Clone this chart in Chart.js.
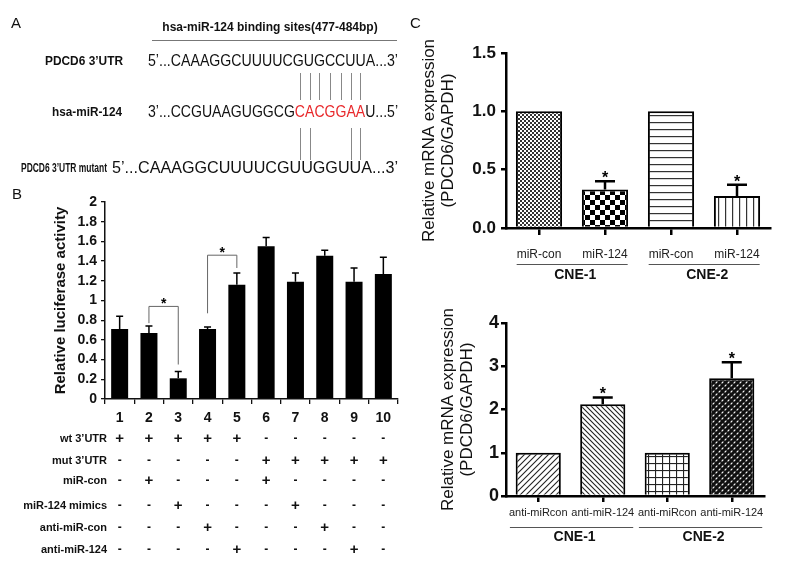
<!DOCTYPE html>
<html>
<head>
<meta charset="utf-8">
<script src="https://cdn.jsdelivr.net/npm/chart.js@4.4.0/dist/chart.umd.min.js"></script>
<style>
html, body { margin: 0; padding: 0; background: #fff; }
#wrap { position: relative; width: 800px; height: 565px; overflow: hidden; font-family: 'Liberation Sans', Arial, sans-serif; }
canvas { position: absolute; }
.tag { position: absolute; font-size: 15px; line-height: 15px; color: #111; }
</style>
</head>
<body>
<div id="wrap">
  <canvas id="seq" width="400" height="180" style="left:0;top:0"></canvas>
  <canvas id="luc" width="420" height="385" style="left:0;top:180px"></canvas>
  <canvas id="mimic" width="400" height="290" style="left:400px;top:0"></canvas>
  <canvas id="anti" width="400" height="280" style="left:400px;top:285px"></canvas>
  <div class="tag" style="left:11px;top:15px">A</div>
  <div class="tag" style="left:12px;top:186px">B</div>
  <div class="tag" style="left:410px;top:15px">C</div>
</div>
<script>
var F = "'Liberation Sans', Arial, sans-serif";

// panel B: luciferase assay
var lucLabels = ["1", "2", "3", "4", "5", "6", "7", "8", "9", "10"];
var lucValues = [0.71, 0.67, 0.21, 0.71, 1.16, 1.55, 1.19, 1.455, 1.19, 1.27];
var lucErrors = [0.13, 0.07, 0.07, 0.02, 0.12, 0.09, 0.09, 0.055, 0.14, 0.17];
var rowNames = ["wt 3’UTR", "mut 3’UTR", "miR-con", "miR-124 mimics", "anti-miR-con", "anti-miR-124"];
var rowMarks = [
    [1, 1, 1, 1, 1, 0, 0, 0, 0, 0],
    [0, 0, 0, 0, 0, 1, 1, 1, 1, 1],
    [0, 1, 0, 0, 0, 1, 0, 0, 0, 0],
    [0, 0, 1, 0, 0, 0, 1, 0, 0, 0],
    [0, 0, 0, 1, 0, 0, 0, 1, 0, 0],
    [0, 0, 0, 0, 1, 0, 0, 0, 1, 0]
];
var lucBrackets = [
    {from: 1, to: 2, top: 0.94, leftEnd: 0.77, rightEnd: 0.35},
    {from: 3, to: 4, top: 1.46, leftEnd: 0.87, rightEnd: 1.33}
];

// panel C: qPCR
var mimicLabels = ["miR-con", "miR-124", "miR-con", "miR-124"];
var mimicValues = [1.0, 0.33, 1.0, 0.275];
var mimicErrors = [0, 0.07, 0, 0.095];
var antiLabels = ["anti-miRcon", "anti-miR-124", "anti-miRcon", "anti-miR-124"];
var antiValues = [1.0, 2.12, 1.0, 2.72];
var antiErrors = [0, 0.16, 0, 0.37];
var starred = [false, true, false, true];
var cellLines = ["CNE-1", "CNE-2"];

// panel A: binding site
var utrSeq = "5’...CAAAGGCUUUUCGUGCCUUA...3’";
var mirSeq = ["3’...CCGUAAGUGGCG", "CACGGAA", "U...5’"];
var mutSeq = "5’...CAAAGGCUUUUCGUUGGUUA...3’";
var pairedWt = [0, 1, 2, 3, 4, 5, 6];
var pairedMut = [0, 1, 5, 6];

// ---------- panel A ----------
var sv = document.getElementById("seq").getContext("2d");
sv.textBaseline = "middle";
sv.fillStyle = "#111";
sv.font = "bold 12px " + F;
sv.textAlign = "center";
sv.fillText("hsa-miR-124 binding sites(477-484bp)", 270, 28);
sv.strokeStyle = "#777";
sv.lineWidth = 1;
sv.beginPath();
sv.moveTo(152, 40.5);
sv.lineTo(397, 40.5);
sv.stroke();

function drawSeq(parts, x, y, width) {
    sv.font = "16px " + F;
    sv.textAlign = "left";
    var total = 0;
    parts.forEach(function(p) { total += sv.measureText(p[0]).width; });
    var s = width / total, off = 0, centers = [];
    sv.save();
    sv.translate(x, y);
    sv.scale(s, 1);
    parts.forEach(function(p) {
        sv.fillStyle = p[1];
        sv.fillText(p[0], off, 0);
        var c = [];
        for (var k = 0; k < p[0].length; k++) {
            var a = sv.measureText(p[0].slice(0, k)).width;
            var w = sv.measureText(p[0][k]).width;
            c.push(x + s * (off + a + w / 2));
        }
        centers.push(c);
        off += sv.measureText(p[0]).width;
    });
    sv.restore();
    return centers;
}
function seqLabel(t, x, y, maxW) {
    sv.font = "bold 12px " + F;
    sv.textAlign = "right";
    sv.fillStyle = "#111";
    sv.fillText(t, x, y, maxW);
}
seqLabel("PDCD6 3’UTR", 123, 62, 78);
drawSeq([[utrSeq, "#111"]], 148, 62, 250);
seqLabel("hsa-miR-124", 122, 113, 70);
var mc = drawSeq([[mirSeq[0], "#111"], [mirSeq[1], "#e8282b"], [mirSeq[2], "#111"]], 148, 113, 250)[1];
seqLabel("PDCD6 3’UTR mutant", 107, 169, 86);
drawSeq([[mutSeq, "#111"]], 112, 169, 286);
sv.strokeStyle = "#888";
sv.beginPath();
pairedWt.forEach(function(i) { var px = Math.round(mc[i]) + 0.5; sv.moveTo(px, 73); sv.lineTo(px, 100); });
pairedMut.forEach(function(i) { var px = Math.round(mc[i]) + 0.5; sv.moveTo(px, 128); sv.lineTo(px, 160); });
sv.stroke();

// ---------- fill patterns ----------
function pattern(size, bg, draw) {
    var c = document.createElement("canvas");
    c.width = size; c.height = size;
    var g = c.getContext("2d");
    g.fillStyle = bg;
    g.fillRect(0, 0, size, size);
    draw(g, size);
    return g.createPattern(c, "repeat");
}
function diag(g, s, dir) {
    g.beginPath();
    for (var k = -1; k <= 1; k++) {
        if (dir > 0) { g.moveTo(k * s - 1, s + 1); g.lineTo(k * s + s + 1, -1); }
        else { g.moveTo(k * s - 1, -1); g.lineTo(k * s + s + 1, s + 1); }
    }
    g.stroke();
}
var fineCheck = pattern(4, "#fff", function(g) { g.fillStyle = "#333"; g.fillRect(0, 0, 2, 2); g.fillRect(2, 2, 2, 2); });
var bigCheck = pattern(10, "#fff", function(g) { g.fillStyle = "#000"; g.fillRect(0, 0, 5, 5); g.fillRect(5, 5, 5, 5); });
var hLines = pattern(7, "#fff", function(g) { g.fillStyle = "#333"; g.fillRect(0, 3, 7, 1.2); });
var vLines = pattern(7, "#fff", function(g) { g.fillStyle = "#333"; g.fillRect(3, 0, 1.2, 7); });
var slash = pattern(6, "#fff", function(g, s) { g.strokeStyle = "#222"; g.lineWidth = 1.1; diag(g, s, 1); });
var backslash = pattern(5, "#fff", function(g, s) { g.strokeStyle = "#222"; g.lineWidth = 1.1; diag(g, s, -1); });
var grid = pattern(7, "#fff", function(g) { g.fillStyle = "#222"; g.fillRect(0, 3, 7, 1.1); g.fillRect(3, 0, 1.1, 7); });
var dark = pattern(6, "#111", function(g, s) {
    g.strokeStyle = "#fff"; g.lineWidth = 1.2; diag(g, s, 1);
    g.strokeStyle = "#111"; g.lineWidth = 1.6; diag(g, s, -1);
});

// ---------- plugins ----------
var errorBars = {
    id: "errorBars",
    afterDatasetsDraw: function(chart, args, o) {
        var ctx = chart.ctx, y = chart.scales.y, vals = chart.data.datasets[0].data;
        ctx.save();
        ctx.strokeStyle = "#000";
        ctx.fillStyle = "#000";
        ctx.lineWidth = o.width;
        ctx.font = "bold " + o.starSize + "px " + F;
        ctx.textAlign = "center";
        ctx.textBaseline = "alphabetic";
        chart.getDatasetMeta(0).data.forEach(function(bar, i) {
            if (!o.errors[i]) return;
            var y0 = y.getPixelForValue(vals[i]), y1 = y.getPixelForValue(vals[i] + o.errors[i]);
            ctx.beginPath();
            ctx.moveTo(bar.x, y0);
            ctx.lineTo(bar.x, y1);
            ctx.moveTo(bar.x - o.cap / 2, y1);
            ctx.lineTo(bar.x + o.cap / 2, y1);
            ctx.stroke();
            if (o.stars && o.stars[i]) ctx.fillText("*", bar.x, y1 + 2);
        });
        ctx.restore();
    }
};

var brackets = {
    id: "brackets",
    afterDatasetsDraw: function(chart, args, o) {
        var ctx = chart.ctx, x = chart.scales.x, y = chart.scales.y;
        ctx.save();
        ctx.strokeStyle = "#666";
        ctx.lineWidth = 1;
        ctx.fillStyle = "#000";
        ctx.font = "bold 14px " + F;
        ctx.textAlign = "center";
        o.items.forEach(function(b) {
            var xl = x.getPixelForValue(b.from), xr = x.getPixelForValue(b.to), yt = y.getPixelForValue(b.top);
            ctx.beginPath();
            ctx.moveTo(xl, y.getPixelForValue(b.leftEnd));
            ctx.lineTo(xl, yt);
            ctx.lineTo(xr, yt);
            ctx.lineTo(xr, y.getPixelForValue(b.rightEnd));
            ctx.stroke();
            ctx.fillText("*", (xl + xr) / 2, yt + 2);
        });
        ctx.restore();
    }
};

var condTable = {
    id: "condTable",
    afterDraw: function(chart, args, o) {
        var ctx = chart.ctx, x = chart.scales.x;
        ctx.save();
        ctx.fillStyle = "#111";
        ctx.textBaseline = "middle";
        o.names.forEach(function(name, r) {
            var y = x.top + o.rowDy[r];
            ctx.font = "bold 11px " + F;
            ctx.textAlign = "right";
            ctx.fillText(name, o.labelX, y);
            ctx.textAlign = "center";
            o.marks[r].forEach(function(m, i) {
                ctx.font = m ? "bold 15px " + F : "bold 12px " + F;
                ctx.fillText(m ? "+" : "-", x.getPixelForValue(i), y);
            });
        });
        ctx.restore();
    }
};

var groups = {
    id: "groups",
    afterDraw: function(chart, args, o) {
        var ctx = chart.ctx, x = chart.scales.x, labels = chart.data.labels;
        ctx.save();
        o.names.forEach(function(name, gi) {
            var a = gi * 2, b = a + 1;
            ctx.font = o.tickSize + "px " + F;
            var left = x.getPixelForValue(a) - ctx.measureText(labels[a]).width / 2 - o.pad;
            var right = x.getPixelForValue(b) + ctx.measureText(labels[b]).width / 2 + o.pad;
            ctx.strokeStyle = "#555";
            ctx.lineWidth = 1;
            ctx.beginPath();
            ctx.moveTo(left, x.top + o.lineDy + 0.5);
            ctx.lineTo(right, x.top + o.lineDy + 0.5);
            ctx.stroke();
            ctx.font = "bold 14px " + F;
            ctx.fillStyle = "#111";
            ctx.textAlign = "center";
            ctx.textBaseline = "middle";
            ctx.fillText(name, (left + right) / 2 + 3, x.top + o.labelDy);
        });
        ctx.restore();
    }
};

// ---------- chart B ----------
new Chart(document.getElementById("luc"), {
    type: "bar",
    data: {
        labels: lucLabels,
        datasets: [{
            data: lucValues,
            backgroundColor: "#000",
            borderWidth: 0,
            barPercentage: 0.58,
            categoryPercentage: 1
        }]
    },
    options: {
        responsive: false,
        animation: false,
        layout: {padding: {left: 48, top: 22, right: 22, bottom: 0}},
        plugins: {
            legend: {display: false},
            tooltip: {enabled: false},
            errorBars: {errors: lucErrors, cap: 7, width: 1.5, starSize: 14},
            brackets: {items: lucBrackets},
            condTable: {names: rowNames, marks: rowMarks, rowDy: [40, 62, 82, 107, 129, 151], labelX: 107}
        },
        scales: {
            x: {
                grid: {offset: true, drawOnChartArea: false, tickLength: 5, color: "#111", lineWidth: 1.3},
                border: {color: "#111", width: 1.5},
                ticks: {color: "#111", padding: 6, maxRotation: 0, autoSkip: false, font: {size: 14, weight: "bold"}},
                afterFit: function(s) { s.height = 166; }
            },
            y: {
                min: 0,
                max: 2,
                grid: {drawOnChartArea: false, tickLength: 4, color: "#111", lineWidth: 1.3},
                border: {color: "#111", width: 1.5},
                ticks: {stepSize: 0.2, autoSkip: false, color: "#111", padding: 4, font: {size: 14, weight: "bold"},
                    callback: function(v) { return String(+v.toFixed(1)); }},
                title: {display: true, text: "Relative luciferase activity", color: "#111",
                    font: {size: 15, weight: "bold"}, padding: {top: 4, bottom: 0}},
                afterFit: function(s) { s.width = 57; }
            }
        }
    },
    plugins: [errorBars, brackets, condTable]
});

// ---------- chart C (two panels) ----------
function qpcr(id, labels, values, errors, fills, yMax, step, fmt, box) {
    return new Chart(document.getElementById(id), {
        type: "bar",
        data: {
            labels: labels,
            datasets: [{
                data: values,
                backgroundColor: fills,
                borderColor: "#000",
                borderWidth: 2,
                barPercentage: 0.7,
                categoryPercentage: 1
            }]
        },
        options: {
            responsive: false,
            animation: false,
            layout: {padding: box.padding},
            plugins: {
                legend: {display: false},
                tooltip: {enabled: false},
                errorBars: {errors: errors, stars: starred, cap: 20, width: 2.5, starSize: 16},
                groups: {names: cellLines, pad: box.groupPad, lineDy: box.lineDy, labelDy: box.labelDy, tickSize: box.xFont}
            },
            scales: {
                x: {
                    grid: {offset: false, drawOnChartArea: false, tickLength: box.xTick, color: "#000", lineWidth: 2.5},
                    border: {color: "#000", width: 2.5},
                    ticks: {color: "#222", padding: box.xPad, maxRotation: 0, autoSkip: false, font: {size: box.xFont}},
                    afterFit: function(s) { s.height = box.xHeight; }
                },
                y: {
                    min: 0,
                    max: yMax,
                    grid: {drawOnChartArea: false, tickLength: 5, color: "#000", lineWidth: 2.5},
                    border: {color: "#000", width: 2.5},
                    ticks: {stepSize: step, autoSkip: false, color: "#111", padding: box.yPad, font: {size: box.yFont, weight: "bold"}, callback: fmt},
                    title: {display: true, text: ["Relative mRNA expression", "(PDCD6/GAPDH)"], color: "#111",
                        font: {size: 17, lineHeight: 1.1}, padding: {top: 4, bottom: 0}},
                    afterFit: function(s) { s.width = box.yWidth; }
                }
            }
        },
        plugins: [errorBars, groups]
    });
}

qpcr("mimic", mimicLabels, mimicValues, mimicErrors, [fineCheck, bigCheck, hLines, vLines], 1.5, 0.5,
    function(v) { return v.toFixed(1); },
    {padding: {left: 16, top: 53, right: 30, bottom: 0}, yWidth: 90, xHeight: 62, xTick: 7, xPad: 12, xFont: 12,
     yPad: 5, yFont: 17, groupPad: 0, lineDy: 36, labelDy: 47});

qpcr("anti", antiLabels, antiValues, antiErrors, [slash, backslash, grid, dark], 4, 1,
    function(v) { return String(v); },
    {padding: {left: 35, top: 38, right: 36, bottom: 0}, yWidth: 71, xHeight: 69, xTick: 6, xPad: 4, xFont: 11,
     yPad: 2, yFont: 18, groupPad: -1, lineDy: 31, labelDy: 41});
</script>
</body>
</html>
